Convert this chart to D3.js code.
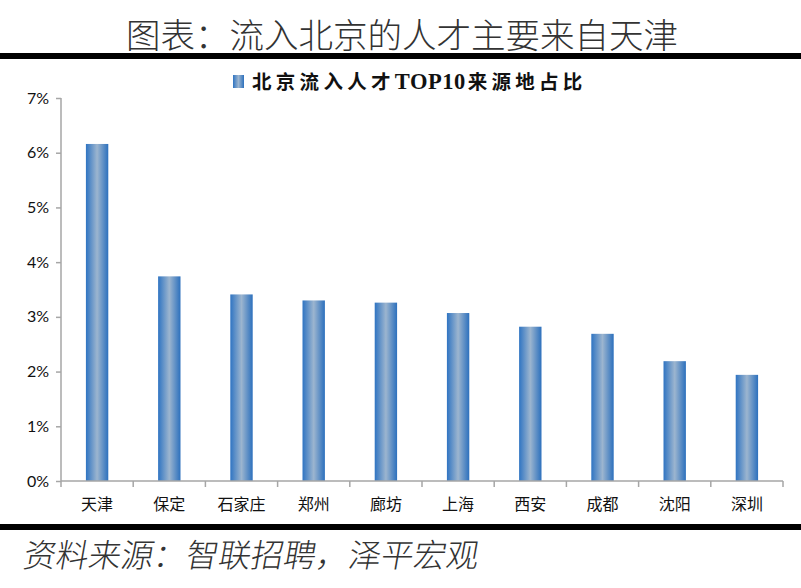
<!DOCTYPE html>
<html>
<head>
<meta charset="utf-8">
<script src="https://cdn.jsdelivr.net/npm/d3@7"></script>
<style>
  body { margin: 0; background: #fff; }
  svg { display: block; }
</style>
</head>
<body>
<div id="chart"></div>
<script>
const cities = ["天津", "保定", "石家庄", "郑州", "廊坊", "上海", "西安", "成都", "沈阳", "深圳"];
const shares = [6.16, 3.74, 3.41, 3.30, 3.26, 3.07, 2.82, 2.69, 2.19, 1.94];
const yTicks = [0, 1, 2, 3, 4, 5, 6, 7];

const W = 801, H = 588;
const marg = {top: 98, right: 18, bottom: 107, left: 61},
  wid = W - marg.left - marg.right,
  hei = H - marg.top - marg.bottom;

const svg = d3.select("#chart").append("svg")
  .attr("width", W)
  .attr("height", H);

// bar gradient: dark blue edges, pale centre
const grad = svg.append("defs").append("linearGradient")
  .attr("id", "barGrad")
  .attr("x1", "0%").attr("x2", "100%").attr("y1", "0%").attr("y2", "0%");
grad.append("stop").attr("offset", "0%").attr("stop-color", "#2f74c2");
grad.append("stop").attr("offset", "50%").attr("stop-color", "#9cb5cf");
grad.append("stop").attr("offset", "100%").attr("stop-color", "#2c70bd");

// title + rules
svg.append("text")
  .attr("x", 402)
  .attr("y", 48)
  .attr("text-anchor", "middle")
  .style("font-family", "'Noto Sans CJK SC'")
  .style("font-weight", 300)
  .style("font-size", "34.5px")
  .style("fill", "#333")
  .text("图表：流入北京的人才主要来自天津");

svg.append("rect").attr("x", 0).attr("y", 53).attr("width", W).attr("height", 6).attr("fill", "#000");
svg.append("rect").attr("x", 0).attr("y", 524).attr("width", W).attr("height", 6).attr("fill", "#000");

// source note, slanted
svg.append("text")
  .attr("x", 22)
  .attr("y", 567)
  .style("font-family", "'Noto Sans CJK SC'")
  .style("font-weight", 300)
  .style("font-size", "32.5px")
  .style("fill", "#333")
  .attr("transform", "skewX(-10) translate(100,0)")
  .text("资料来源：智联招聘，泽平宏观");

// legend
svg.append("rect")
  .attr("x", 233).attr("y", 75)
  .attr("width", 11).attr("height", 13)
  .attr("fill", "url(#barGrad)");
const legText = svg.append("text")
  .attr("x", 252)
  .attr("y", 89)
  .style("font-family", "'Noto Sans CJK SC'")
  .style("font-weight", "bold")
  .style("font-size", "19.5px")
  .style("letter-spacing", "4.3px")
  .style("fill", "#111");
legText.append("tspan").text("北京流入人才");
legText.append("tspan")
  .style("font-family", "'Liberation Serif'")
  .style("font-size", "22.5px")
  .style("letter-spacing", "0.5px")
  .text("TOP10");
legText.append("tspan").attr("dx", 2).text("来源地占比");

const g = svg.append("g")
  .attr("transform", `translate(${marg.left},${marg.top})`);

const xScale = d3.scaleBand()
  .domain(cities)
  .range([0, wid])
  .paddingInner(0.69)
  .paddingOuter(0.345);

const xLine = d3.scaleBand().domain(cities).range([0, wid]);

const yScale = d3.scaleLinear()
  .domain([0, 7])
  .range([hei, 0]);

// bars
g.selectAll(".bar")
  .data(shares)
  .join("rect")
  .attr("class", "bar")
  .attr("x", (d, i) => xScale(cities[i]))
  .attr("y", d => yScale(d))
  .attr("width", xScale.bandwidth())
  .attr("height", d => hei - yScale(d))
  .attr("fill", "url(#barGrad)");

// y axis
const yAxis = g.append("g")
  .call(d3.axisLeft(yScale).tickValues(yTicks).tickSize(5).tickFormat(d => d + "%"));
yAxis.select(".domain").attr("stroke", "#a6a6a6").attr("stroke-width", 1.5).attr("d", `M0,0V${hei}`);
yAxis.selectAll(".tick line").attr("stroke", "#a6a6a6").attr("stroke-width", 1.5);
yAxis.selectAll(".tick text")
  .attr("x", -12)
  .style("font-family", "Lato")
  .style("font-size", "16px")
  .style("fill", "#111");

// x axis with boundary ticks
const xAxis = g.append("g")
  .attr("transform", `translate(0,${hei})`)
  .call(d3.axisBottom(xScale).tickSize(0).tickPadding(18));
xAxis.select(".domain").attr("stroke", "#a6a6a6").attr("stroke-width", 1.5).attr("d", `M0,0H${wid}`);
xAxis.selectAll(".tick text")
  .style("font-family", "'Noto Sans CJK SC'")
  .style("font-size", "16px")
  .style("fill", "#111");

const bounds = cities.map(c => xLine(c)).concat([wid]);
xAxis.selectAll(".bound")
  .data(bounds)
  .join("line")
  .attr("class", "bound")
  .attr("x1", d => d).attr("x2", d => d)
  .attr("y1", 0).attr("y2", 6)
  .attr("stroke", "#a6a6a6")
  .attr("stroke-width", 1.5);
</script>
</body>
</html>
